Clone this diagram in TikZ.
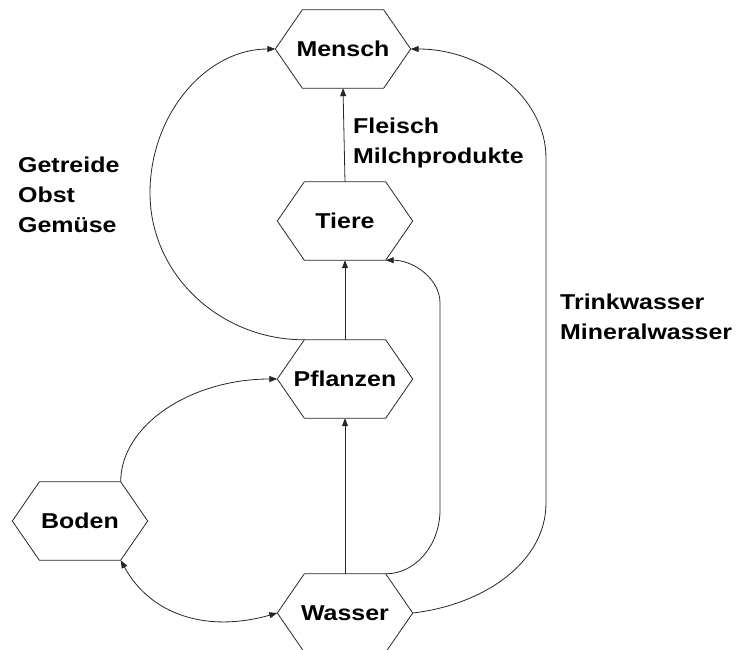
\documentclass[tikz,border=0pt]{standalone}
\usepackage{fontspec}
\setmainfont{Liberation Sans}[FakeStretch=1.16]
\usetikzlibrary{arrows.meta}
\newcommand\myhexfont{\bfseries\fontsize{21.5}{30}\selectfont}
\begin{document}
\begin{tikzpicture}[x=1pt,y=-1pt,
  hexbox/.style={minimum width=135pt,minimum height=78pt,inner sep=0pt,font=\myhexfont},
  lbl/.style={align=left,inner sep=0pt,anchor=west,font=\myhexfont},
  conn/.style={line width=0.8pt,draw=black!85},
  arr/.style={conn,-{Triangle[length=8pt,width=6pt]}},
  dblarr/.style={conn,{Triangle[length=8pt,width=6pt]}-{Triangle[length=8pt,width=6pt]}},
  ]
\useasboundingbox (0,0) rectangle (737,649);
\node[hexbox] (mensch) at (343,49) {Mensch};
\node[hexbox] (tiere) at (345,221) {Tiere};
\node[hexbox] (pflanzen) at (345,379) {Pflanzen};
\node[hexbox] (boden) at (80,521) {Boden};
\node[hexbox] (wasser) at (345,613) {Wasser};
\foreach \n in {mensch,tiere,pflanzen,boden,wasser}
  \draw[conn] ([xshift=27pt]\n.north west) -- ([xshift=-27pt]\n.north east) -- (\n.east)
    -- ([xshift=-27pt]\n.south east) -- ([xshift=27pt]\n.south west) -- (\n.west) -- cycle;

\node[lbl] (gog) at (18,195) {Getreide\\Obst\\Gemüse};
\node[lbl] (fm) at (353,143) {Fleisch\\Milchprodukte};
\node[lbl] (tm) at (560,317) {Trinkwasser\\Mineralwasser};

\coordinate (lc) at (150,193);
\coordinate (ib) at (440,510);
\coordinate (it) at (440,303);
\coordinate (ob) at (546,503);
\coordinate (ot) at (546,158);

\draw[arr] (tiere.north) -- (mensch.south);
\draw[arr] (pflanzen.north) -- (tiere.south);
\draw[arr] (wasser.north) -- (pflanzen.south);

\draw[arr] ([xshift=27pt]pflanzen.north west) .. controls +(-85,0) and +(0,81) .. (lc)
  .. controls +(0,-79) and +(-69,0) .. (mensch.west);

\draw[arr] ([xshift=-27pt]wasser.north east) .. controls +(30,0) and +(0,35) .. (ib)
  -- (it) .. controls +(0,-24) and +(28,0) .. ([xshift=-27pt]tiere.south east);

\draw[arr] (wasser.east) .. controls +(70,-8) and +(0,60) .. (ob)
  -- (ot) .. controls +(0,-60) and +(73,0) .. (mensch.east);

\draw[arr] ([xshift=-27pt]boden.north east) .. controls +(0,-57) and +(-86,0) .. (pflanzen.west);

\draw[dblarr] ([xshift=-27pt]boden.south east) .. controls +(30,55) and +(-70,20) .. (wasser.west);
\end{tikzpicture}
\end{document}
